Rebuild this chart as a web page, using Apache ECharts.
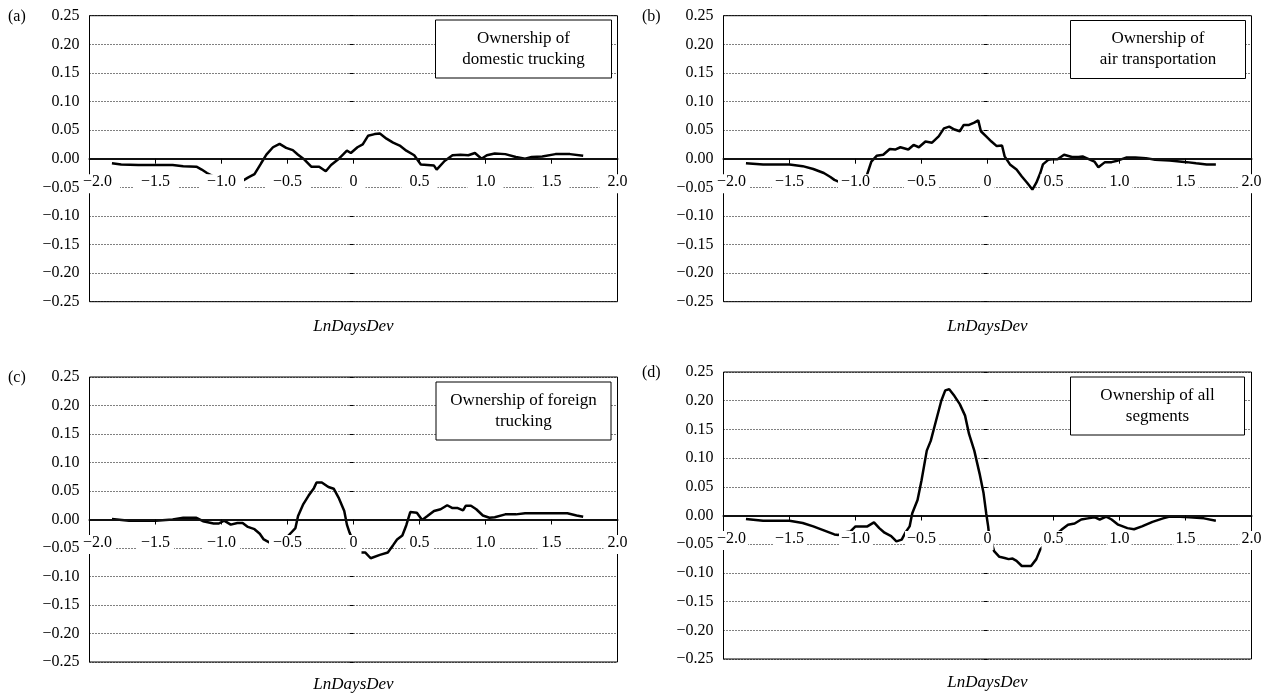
<!DOCTYPE html>
<html>
<head>
<meta charset="utf-8">
<script src="https://cdn.jsdelivr.net/npm/echarts@6/dist/echarts.min.js"></script>
<style>
html,body{margin:0;padding:0;background:#fff;}
#chart{width:1270px;height:693px;}
</style>
</head>
<body>
<div id="chart"></div>
<script>
// ---- data (x = LnDaysDev, y = effect) ----
var panelLetters = ['(a)', '(b)', '(c)', '(d)'];
var panelTitles = ['Ownership of\ndomestic trucking', 'Ownership of\nair transportation', 'Ownership of foreign\ntrucking', 'Ownership of all\nsegments'];
var axisTitle = 'LnDaysDev';
var xTicks = [-2, -1.5, -1, -0.5, 0, 0.5, 1, 1.5, 2];
var yTicks = [-0.25, -0.2, -0.15, -0.1, -0.05, 0, 0.05, 0.1, 0.15, 0.2, 0.25];

var domesticTrucking = [[-1.83,-0.008],[-1.76,-0.010],[-1.63,-0.011],[-1.50,-0.011],[-1.37,-0.011],[-1.29,-0.013],[-1.19,-0.014],[-1.15,-0.019],[-1.11,-0.025],[-1.05,-0.032],[-0.95,-0.042],[-0.87,-0.043],[-0.80,-0.033],[-0.75,-0.027],[-0.70,-0.008],[-0.66,0.007],[-0.61,0.020],[-0.56,0.026],[-0.51,0.019],[-0.46,0.015],[-0.42,0.007],[-0.37,-0.002],[-0.32,-0.014],[-0.26,-0.014],[-0.21,-0.022],[-0.17,-0.011],[-0.12,-0.002],[-0.08,0.007],[-0.05,0.014],[-0.02,0.010],[0.03,0.020],[0.07,0.025],[0.11,0.040],[0.16,0.043],[0.20,0.044],[0.25,0.035],[0.30,0.028],[0.35,0.023],[0.40,0.014],[0.46,0.006],[0.51,-0.010],[0.56,-0.011],[0.61,-0.012],[0.63,-0.019],[0.69,-0.004],[0.75,0.006],[0.81,0.007],[0.87,0.006],[0.92,0.010],[0.97,0.000],[1.01,0.006],[1.07,0.009],[1.15,0.008],[1.23,0.003],[1.30,0.000],[1.35,0.003],[1.43,0.004],[1.53,0.008],[1.64,0.008],[1.74,0.005]];

var airTransportation = [[-1.83,-0.008],[-1.70,-0.010],[-1.50,-0.010],[-1.40,-0.013],[-1.32,-0.018],[-1.24,-0.025],[-1.19,-0.032],[-1.16,-0.037],[-1.08,-0.045],[-1.00,-0.047],[-0.93,-0.040],[-0.88,-0.005],[-0.84,0.005],[-0.79,0.007],[-0.74,0.017],[-0.70,0.016],[-0.66,0.020],[-0.60,0.016],[-0.56,0.024],[-0.52,0.020],[-0.47,0.030],[-0.42,0.028],[-0.37,0.039],[-0.33,0.053],[-0.29,0.056],[-0.25,0.051],[-0.21,0.048],[-0.18,0.059],[-0.14,0.059],[-0.10,0.063],[-0.07,0.067],[-0.05,0.048],[-0.01,0.039],[0.03,0.030],[0.07,0.022],[0.11,0.023],[0.13,0.004],[0.17,-0.010],[0.22,-0.019],[0.26,-0.031],[0.30,-0.042],[0.34,-0.054],[0.37,-0.042],[0.40,-0.025],[0.42,-0.010],[0.46,-0.002],[0.49,-0.001],[0.53,-0.001],[0.58,0.007],[0.64,0.003],[0.69,0.003],[0.72,0.004],[0.78,-0.002],[0.81,-0.005],[0.84,-0.015],[0.89,-0.006],[0.94,-0.006],[0.99,-0.003],[1.05,0.002],[1.12,0.002],[1.20,0.001],[1.27,-0.002],[1.38,-0.003],[1.51,-0.006],[1.58,-0.008],[1.66,-0.010],[1.73,-0.010]];

var foreignTrucking = [[-1.83,0.001],[-1.70,-0.002],[-1.50,-0.002],[-1.37,0.000],[-1.29,0.003],[-1.19,0.003],[-1.14,-0.003],[-1.06,-0.007],[-1.02,-0.007],[-0.98,-0.002],[-0.93,-0.009],[-0.88,-0.006],[-0.84,-0.006],[-0.80,-0.013],[-0.75,-0.017],[-0.71,-0.025],[-0.68,-0.035],[-0.60,-0.045],[-0.52,-0.035],[-0.48,-0.025],[-0.44,-0.015],[-0.42,0.006],[-0.38,0.027],[-0.34,0.042],[-0.30,0.055],[-0.28,0.065],[-0.24,0.065],[-0.19,0.057],[-0.15,0.054],[-0.11,0.037],[-0.07,0.015],[-0.05,-0.009],[-0.03,-0.023],[0.01,-0.045],[0.05,-0.058],[0.09,-0.058],[0.13,-0.068],[0.20,-0.062],[0.26,-0.058],[0.30,-0.045],[0.33,-0.035],[0.37,-0.028],[0.40,-0.010],[0.43,0.013],[0.48,0.012],[0.52,-0.001],[0.56,0.006],[0.61,0.015],[0.66,0.018],[0.71,0.025],[0.75,0.020],[0.79,0.020],[0.83,0.016],[0.85,0.024],[0.89,0.024],[0.93,0.018],[0.98,0.007],[1.03,0.003],[1.07,0.004],[1.15,0.009],[1.23,0.009],[1.30,0.011],[1.41,0.011],[1.51,0.011],[1.62,0.011],[1.69,0.007],[1.74,0.005]];

var allSegments = [[-1.83,-0.006],[-1.70,-0.009],[-1.50,-0.009],[-1.40,-0.013],[-1.32,-0.019],[-1.24,-0.026],[-1.16,-0.033],[-1.13,-0.034],[-1.10,-0.030],[-1.04,-0.028],[-1.00,-0.019],[-0.95,-0.019],[-0.91,-0.019],[-0.86,-0.012],[-0.82,-0.022],[-0.78,-0.030],[-0.73,-0.036],[-0.69,-0.045],[-0.65,-0.042],[-0.62,-0.029],[-0.59,-0.019],[-0.57,0.004],[-0.53,0.027],[-0.50,0.061],[-0.46,0.113],[-0.43,0.130],[-0.39,0.165],[-0.35,0.200],[-0.32,0.218],[-0.29,0.220],[-0.25,0.208],[-0.21,0.194],[-0.17,0.174],[-0.14,0.142],[-0.10,0.113],[-0.06,0.073],[-0.03,0.039],[-0.01,0.004],[0.005,-0.019],[0.01,-0.030],[0.05,-0.062],[0.09,-0.072],[0.13,-0.074],[0.16,-0.076],[0.19,-0.075],[0.22,-0.079],[0.26,-0.088],[0.33,-0.088],[0.37,-0.076],[0.40,-0.059],[0.48,-0.040],[0.56,-0.025],[0.61,-0.016],[0.66,-0.014],[0.71,-0.007],[0.76,-0.005],[0.81,-0.003],[0.85,-0.007],[0.90,-0.002],[0.94,-0.007],[0.99,-0.016],[1.06,-0.022],[1.11,-0.024],[1.17,-0.019],[1.25,-0.011],[1.33,-0.005],[1.38,-0.002],[1.46,-0.002],[1.53,-0.003],[1.64,-0.005],[1.73,-0.009]];

var panelData = [domesticTrucking, airTransportation, foreignTrucking, allSegments];

// ---- layout / style ----
var FONT = '"Liberation Serif", "Times New Roman", serif';
var grids = [
  {left: 89.5, top: 15.7, width: 528, height: 286},
  {left: 723.5, top: 15.7, width: 528, height: 286},
  {left: 89.5, top: 377, width: 528, height: 285},
  {left: 723.5, top: 372, width: 528, height: 287}
];
var labelPadX = [8, 3, 4, 2];
var letterPos = [[8, 17], [642, 17], [8, 378], [642, 373]];
var namePos = [[353.5, 327], [987.5, 327], [353.5, 685], [987.5, 683]];
var boxes = [[435.5, 20, 176, 58], [1070.5, 20.5, 175, 58], [436, 382, 175, 58], [1070.5, 377, 174, 58]];

function fmtX(v) {
  var s = Math.abs(v) < 1e-9 ? '0' : Math.abs(v).toFixed(1);
  if (v < -1e-9) s = '\u2212' + s;
  if (Math.abs(v - xTicks[0]) < 1e-9) return '{g|\u00a0}{f|' + s + '}';
  return '{t|' + s + '}';
}
function fmtY(v) {
  var s = Math.abs(v) < 1e-9 ? '0.00' : Math.abs(v).toFixed(2);
  if (v < -1e-9) s = '\u2212' + s;
  return s;
}

var xAxes = [], yAxes = [], series = [], graphics = [];
for (var i = 0; i < 4; i++) {
  var px = labelPadX[i];
  xAxes.push({
    type: 'value', gridIndex: i, position: 'bottom', offset: -grids[i].height / 2,
    min: xTicks[0], max: xTicks[xTicks.length - 1], interval: 0.5, z: 10,
    axisLine: {show: true, onZero: false, lineStyle: {color: '#111', width: 2}},
    axisTick: {show: true, inside: false, length: 5, lineStyle: {color: '#000', width: 1}},
    splitLine: {show: false},
    axisLabel: {
      show: true, margin: 17, formatter: fmtX, showMinLabel: true, showMaxLabel: true,
      rich: {
        t: {backgroundColor: '#fff', padding: [0, px, 3, px], fontSize: 16, lineHeight: 16, fontFamily: FONT, color: '#000'},
        f: {backgroundColor: '#fff', padding: [0, px, 3, 2], fontSize: 16, lineHeight: 16, fontFamily: FONT, color: '#000'},
        g: {width: 14 + px, fontSize: 16, lineHeight: 16, fontFamily: FONT}
      }
    }
  });
  yAxes.push({
    type: 'value', gridIndex: i, min: yTicks[0], max: yTicks[yTicks.length - 1], interval: 0.05,
    axisLine: {show: false},
    axisTick: {show: true, inside: false, length: 4, lineStyle: {color: '#000', width: 1}},
    splitLine: {show: true, lineStyle: {color: '#000', width: 1, type: [1, 2]}},
    axisLabel: {margin: 10, formatter: fmtY, fontSize: 16, fontFamily: FONT, color: '#000'}
  });
  series.push({
    type: 'line', xAxisIndex: i, yAxisIndex: i, data: panelData[i],
    showSymbol: false, symbol: 'none', smooth: false, z: 3,
    lineStyle: {color: '#000', width: 2.5}, silent: true
  });
  graphics.push({
    type: 'text', z: 100,
    style: {text: panelLetters[i], x: letterPos[i][0], y: letterPos[i][1], textAlign: 'left', textVerticalAlign: 'middle',
            font: '16px ' + FONT, fill: '#000'}
  });
  graphics.push({
    type: 'text', z: 100,
    style: {text: axisTitle, x: namePos[i][0], y: namePos[i][1], textAlign: 'center', textVerticalAlign: 'middle',
            font: 'italic 17px ' + FONT, fill: '#000'}
  });
  var b = boxes[i];
  graphics.push({
    type: 'rect', z: 100,
    shape: {x: b[0], y: b[1], width: b[2], height: b[3]},
    style: {fill: '#fff', stroke: '#000', lineWidth: 1}
  });
  graphics.push({
    type: 'text', z: 101,
    style: {text: panelTitles[i], x: b[0] + b[2] / 2, y: b[1] + b[3] / 2, textAlign: 'center', textVerticalAlign: 'middle',
            font: '17px ' + FONT, lineHeight: 21, fill: '#000'}
  });
}

var chart = echarts.init(document.getElementById('chart'), null, {renderer: 'canvas'});
chart.setOption({
  animation: false,
  backgroundColor: '#fff',
  grid: grids.map(function (g) {
    return {left: g.left, top: g.top, width: g.width, height: g.height, show: true, borderColor: '#000', borderWidth: 1, backgroundColor: 'transparent', containLabel: false};
  }),
  xAxis: xAxes,
  yAxis: yAxes,
  series: series,
  graphic: graphics
});
</script>
</body>
</html>
